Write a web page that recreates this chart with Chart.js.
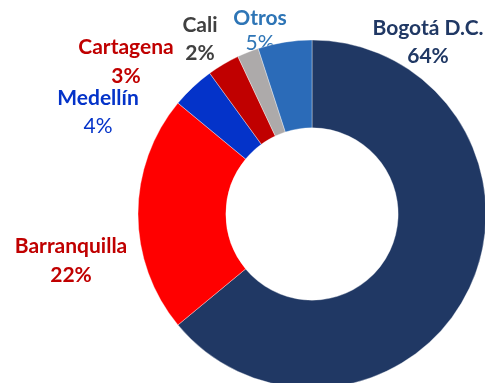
<!DOCTYPE html>
<html>
<head>
<meta charset="utf-8">
<script src="https://cdn.jsdelivr.net/npm/chart.js@4"></script>
<style>
  html, body { margin: 0; padding: 0; background: #fff; }
  #wrap { position: relative; width: 485px; height: 383px; overflow: hidden; }
</style>
</head>
<body>
<div id="wrap"><canvas id="cityChart" width="485" height="383"></canvas></div>
<script>
// Share by city (%), clockwise from 12 o'clock
const cities = ["Bogotá D.C.", "Barranquilla", "Medellín", "Cartagena", "Cali", "Otros"];
const shares = [64, 22, 4, 3, 2, 5];

const sliceColors = ["#203864", "#FF0000", "#0433C9", "#C00000", "#ADAAAA", "#2B6BB8"];
const textColors  = ["#203864", "#C00000", "#0433C9", "#C00000", "#404040", "#2E75B6"];
const pctBold     = [true, true, false, true, true, false];

// label anchors: [dx, nameBaselineDy, pctBaselineDy] from the ring centre
const labelPos = [
  [116, -179, -151],
  [-241, 39, 68],
  [-214, -109, -81],
  [-186, -160, -131],
  [-112, -182, -154],
  [-52, -189, -164]
];

const FONT = "Lato, 'Open Sans', sans-serif";

// city names + percentages, painted under the ring (the ring overlaps "5%")
const outsideLabels = {
  id: "outsideLabels",
  beforeDatasetsDraw(chart) {
    const arc = chart.getDatasetMeta(0).data[0];
    if (!arc) return;
    const { x: cx, y: cy } = arc;
    const ctx = chart.ctx;
    ctx.save();
    ctx.textAlign = "center";
    ctx.textBaseline = "alphabetic";
    cities.forEach((name, i) => {
      const [dx, dy1, dy2] = labelPos[i];
      ctx.fillStyle = textColors[i];
      ctx.font = `bold 21px ${FONT}`;
      ctx.fillText(name, cx + dx, cy + dy1);
      ctx.font = `${pctBold[i] ? "bold " : ""}21px ${FONT}`;
      ctx.fillText(`${shares[i]}%`, cx + dx, cy + dy2);
    });
    ctx.restore();
  }
};

new Chart(document.getElementById("cityChart"), {
  type: "doughnut",
  data: {
    labels: cities,
    datasets: [{
      data: shares,
      backgroundColor: sliceColors,
      borderColor: "rgba(255,255,255,0.6)",
      borderWidth: 0.6,
      clip: false
    }]
  },
  options: {
    responsive: false,
    animation: false,
    radius: 174,
    cutout: "49.5%",
    rotation: 0,
    layout: { padding: { left: 139, right: 0, top: 45, bottom: 0 } },
    plugins: {
      legend: { display: false },
      tooltip: { enabled: false }
    }
  },
  plugins: [outsideLabels]
});
</script>
</body>
</html>
